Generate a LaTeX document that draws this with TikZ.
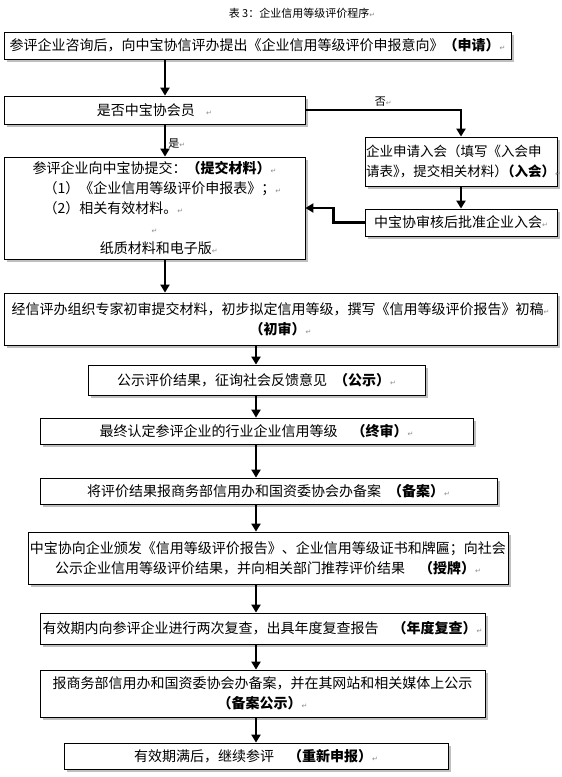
\documentclass[tikz,border=0pt]{standalone}
\usepackage{fontspec}
\setmainfont{Noto Sans CJK SC}
\newfontfamily\symf{DejaVu Sans}
\usetikzlibrary{arrows.meta, positioning, shadows}
\newcommand{\ret}{{\symf\color{black!45}\fontsize{7}{7}\selectfont ↵}}

\begin{document}
\begin{tikzpicture}[
    x=1pt, y=-1pt,
    box/.style={rectangle, draw=black, line width=0.8pt, fill=white, inner sep=0pt, align=center, font=\fontsize{14}{20}\selectfont, drop shadow={shadow xshift=2.5pt, shadow yshift=-2.5pt, fill=black!25, opacity=1}},
    arrow/.style={line width=2.6pt, -{Triangle[length=8pt, width=9pt]}},
    tag/.style={font=\fontsize{11}{11}\selectfont, inner sep=2pt}
]
    \useasboundingbox (0,0) rectangle (562,777);

    \coordinate (colA) at (165,0);
    \coordinate (colB) at (256,0);

    \node[font=\fontsize{11}{11}\selectfont] (title) at (302,13) {表 3：企业信用等级评价程序\ret};

    \node[box, minimum width=507pt, minimum height=27pt] (apply) at (257.5,45.5) {参评企业咨询后，向中宝协信评办提出《企业信用等级评价申报意向》\textbf{（申请）}\ret};
    \node[box, minimum width=301pt, minimum height=28pt] (member) at (154.5,110) {是否中宝协会员\hspace{0.8em}\ret};
    \node[box, minimum width=301pt, minimum height=102pt] (submit) at (154.5,208) {参评企业向中宝协提交：\textbf{（提交材料）}\ret\\
        \makebox[222pt][l]{（1）《企业信用等级评价申报表》；\ret}\\
        \makebox[222pt][l]{（2）相关有效材料。\ret}\\
        \ret\\
        \hspace{0.6em}纸质材料和电子版\ret};
    \node[box, minimum width=192pt, minimum height=49pt, align=left, text width=190pt, font=\fontsize{13.5}{20}\selectfont] (join) at (461,161.5) {企业申请入会（填写《入会申\\请表》\kern-0.5em，提交相关材料）\kern-0.5em\textbf{（入会）}\ret};
    \node[box, minimum width=192pt, minimum height=27pt] (approve) at (461,222.5) {中宝协审核后批准企业入会\ret};

    \node[box, minimum width=553pt, minimum height=52pt] (first) at (280.5,319) {经信评办组织专家初审提交材料，初步拟定信用等级，撰写《信用等级评价报告》初稿\ret\\\textbf{（初审）}\ret};
    \node[box, minimum width=337pt, minimum height=30pt] (publicize) at (256.5,380) {公示评价结果，征询社会反馈意见\hspace{0.5em}\textbf{（公示）}\ret};
    \node[box, minimum width=433pt, minimum height=26pt] (final) at (256.5,431) {最终认定参评企业的行业企业信用等级\hspace{1em}\textbf{（终审）}\ret};
    \node[box, minimum width=457pt, minimum height=26pt] (record) at (268.5,491) {将评价结果报商务部信用办和国资委协会办备案\hspace{0.5em}\textbf{（备案）}\ret};
    \node[box, minimum width=480pt, minimum height=52pt] (award) at (268,558) {中宝协向企业颁发《信用等级评价报告》、企业信用等级证书和牌匾；向社会\\公示企业信用等级评价结果，并向相关部门推荐评价结果\hspace{1em}\textbf{（授牌）}\ret};
    \node[box, minimum width=445pt, minimum height=31pt] (review) at (262.5,628.5) {有效期内向参评企业进行两次复查，出具年度复查报告\hspace{1em}\textbf{（年度复查）}\ret};
    \node[box, minimum width=445pt, minimum height=47pt] (filing) at (262.5,693.5) {报商务部信用办和国资委协会办备案，并在其网站和相关媒体上公示\\\textbf{（备案公示）}\ret};
    \node[box, minimum width=384pt, minimum height=26pt] (renew) at (256,756) {有效期满后，继续参评\hspace{1em}\textbf{（重新申报）}\ret};

    \draw[arrow] (apply.south -| colA) -- (member.north -| colA);
    \draw[arrow] (member.south -| colA) -- node[tag, right, pos=0.6] {是\ret} (submit.north -| colA);
    \draw[arrow] (member.east) -| node[tag, above, pos=0.25] {否\ret} (join.north);
    \draw[arrow] (join) -- (approve);
    \draw[arrow] (approve.west) -- ++(-31,0) |- (submit.east);
    \draw[arrow] (submit.south -| colA) -- (first.north -| colA);

    \draw[arrow] (first.south -| colB) -- (publicize.north -| colB);
    \draw[arrow] (publicize.south -| colB) -- (final.north -| colB);
    \draw[arrow] (final.south -| colB) -- (record.north -| colB);
    \draw[arrow] (record.south -| colB) -- (award.north -| colB);
    \draw[arrow] (award.south -| colB) -- (review.north -| colB);
    \draw[arrow] (review.south -| colB) -- (filing.north -| colB);
    \draw[arrow] (filing.south -| colB) -- (renew.north -| colB);

\end{tikzpicture}
\end{document}
